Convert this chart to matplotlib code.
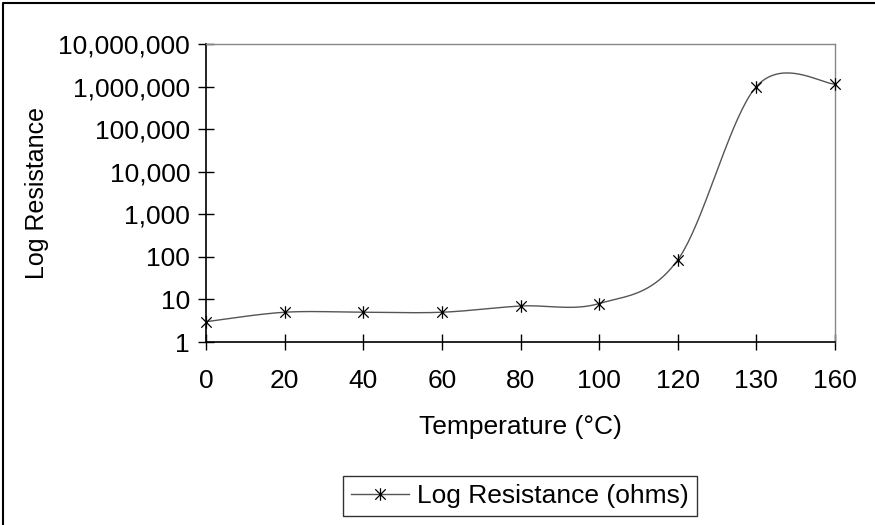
import numpy as np
import matplotlib
matplotlib.use('Agg')
import matplotlib.pyplot as plt
from matplotlib import ticker
from matplotlib.path import Path
from matplotlib.lines import Line2D

# Data (categorical x axis)
temperatures = ['0', '20', '40', '60', '80', '100', '120', '130', '160']
resistance = [3, 5, 5, 5, 7, 8, 85, 1000000, 1150000]
y_ticks = [1, 10, 100, 1000, 10000, 100000, 1000000, 10000000]

plt.rcParams['font.family'] = ['Liberation Sans', 'DejaVu Sans']

fig = plt.figure(figsize=(8.75, 5.25), dpi=100)
ax = fig.add_axes([206/875, 1 - 342/525, (835 - 206)/875, (342 - 44)/525])

# Excel style smoothed line: Catmull-Rom bezier in log space
xs = np.arange(len(resistance), dtype=float)
ly = np.log10(resistance)
pts = np.column_stack([xs, ly])
ext = np.vstack([pts[0], pts, pts[-1]])
t = np.linspace(0, 1, 40)[:, None]
curve = []
for i in range(len(pts) - 1):
    p0, p3 = ext[i + 1], ext[i + 2]
    c1 = p0 + (ext[i + 2] - ext[i]) / 6
    c2 = p3 - (ext[i + 3] - ext[i + 1]) / 6
    seg = (1 - t)**3 * p0 + 3 * (1 - t)**2 * t * c1 + 3 * (1 - t) * t**2 * c2 + t**3 * p3
    curve.append(seg)
curve = np.vstack(curve)
ax.plot(curve[:, 0], 10**curve[:, 1], color='#555555', lw=1.0, zorder=2, clip_on=False)

# asterisk marker: X plus vertical bar
star = Path([(-1, -1), (1, 1), (-1, 1), (1, -1), (0, -1.2), (0, 1.2)],
            [Path.MOVETO, Path.LINETO, Path.MOVETO, Path.LINETO, Path.MOVETO, Path.LINETO])
ax.plot(xs, resistance, linestyle='none', marker=star, markersize=9, clip_on=False,
        markeredgecolor='black', markerfacecolor='none', markeredgewidth=0.9, zorder=3)

# legend handle
ax.plot([], [], color='#555555', lw=1.0, marker=star, markersize=9,
        markeredgecolor='black', markerfacecolor='none', markeredgewidth=0.9,
        label='Log Resistance (ohms)')

ax.set_yscale('log')
ax.set_ylim(1, 10000000)
ax.set_xlim(0, len(temperatures) - 1)
ax.set_yticks(y_ticks)
ax.yaxis.set_major_formatter(ticker.FuncFormatter(lambda v, p: '{:,.0f}'.format(v)))
ax.yaxis.set_minor_locator(ticker.NullLocator())
ax.set_xticks(xs)
ax.set_xticklabels(temperatures)

ax.tick_params(axis='both', direction='inout', length=11, width=1, labelsize=19, color='black')
ax.tick_params(axis='y', pad=6)
ax.tick_params(axis='x', pad=14)

for side in ['left', 'bottom']:
    ax.spines[side].set_color('black')
    ax.spines[side].set_linewidth(1.2)
for side in ['top', 'right']:
    ax.spines[side].set_color('#888888')
    ax.spines[side].set_linewidth(1.0)

ax.set_xlabel('Temperature (\u00b0C)', fontsize=19, labelpad=16)
ax.set_ylabel('Log Resistance', fontsize=18, labelpad=7)

leg = fig.legend(loc='center', bbox_to_anchor=(520/875, 1 - 496/525), fontsize=19,
                 frameon=True, fancybox=False, handlelength=2.2, borderpad=0.3,
                 handletextpad=0.3)
leg.get_frame().set_edgecolor('black')
leg.get_frame().set_linewidth(1.0)

# chart area border only shows on top and left edges
fig.lines.append(Line2D([3/875, 3/875, 1], [0, 1 - 3/525, 1 - 3/525],
                        transform=fig.transFigure, color='black', lw=1.5))

fig.savefig('out.png', dpi=100)
